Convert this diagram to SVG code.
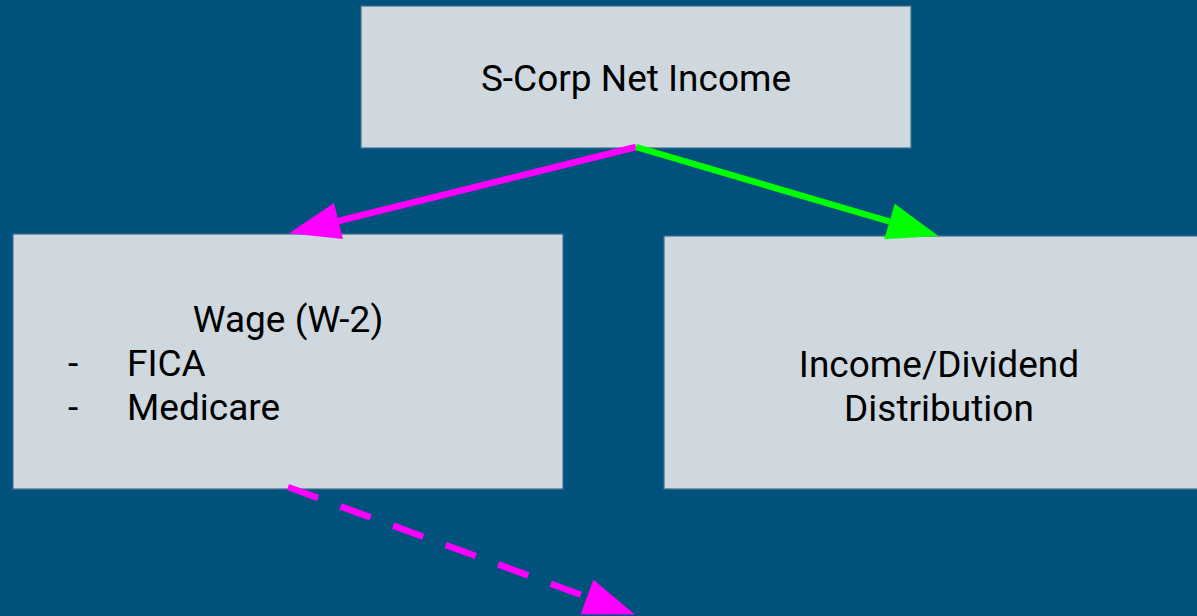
<svg xmlns="http://www.w3.org/2000/svg" width="1197" height="616" viewBox="0 0 1197 616">
<style>
.box{fill:#cfd8de;stroke:#3f6f8d;stroke-width:1.2}
.t{font-family:Roboto,"Liberation Sans",sans-serif;font-size:37px;fill:#000}
.c{text-anchor:middle}
.mag{stroke:#ff00ff;stroke-width:6.5;fill:none}
.grn{stroke:#00ff00;stroke-width:6.5;fill:none}
</style>
<defs>
<marker id="hm" markerUnits="userSpaceOnUse" markerWidth="52" markerHeight="38" refX="0" refY="18.5" orient="auto" overflow="visible">
<path d="M0,0 L51,18.5 L0,37 z" fill="#ff00ff"/>
</marker>
<marker id="hg" markerUnits="userSpaceOnUse" markerWidth="52" markerHeight="38" refX="0" refY="18.5" orient="auto" overflow="visible">
<path d="M0,0 L51,18.5 L0,37 z" fill="#00ff00"/>
</marker>
</defs>
<rect width="1197" height="616" fill="#00517b"/>
<g id="scorp">
<rect class="box" x="361" y="6" width="550" height="142"/>
<text class="t c" x="636" y="91">S-Corp Net Income</text>
</g>
<g id="wage">
<rect class="box" x="13" y="234" width="550" height="255"/>
<text class="t c" x="288" y="332">Wage (W-2)</text>
<text class="t" x="68" y="376">-</text>
<text class="t" x="127" y="376">FICA</text>
<text class="t" x="68" y="420">-</text>
<text class="t" x="127" y="420">Medicare</text>
</g>
<g id="dist">
<rect class="box" x="664" y="236" width="550" height="253"/>
<text class="t c" x="939" y="377">Income/Dividend</text>
<text class="t c" x="939" y="421">Distribution</text>
</g>
<g id="connectors">
<line class="mag" x1="636" y1="147" x2="338.5" y2="221" marker-end="url(#hm)"/>
<line class="grn" x1="636" y1="147" x2="889.5" y2="221.5" marker-end="url(#hg)"/>
<line class="mag" x1="288" y1="487" x2="587" y2="597" stroke-dasharray="32 24" marker-end="url(#hm)"/>
</g>
</svg>
